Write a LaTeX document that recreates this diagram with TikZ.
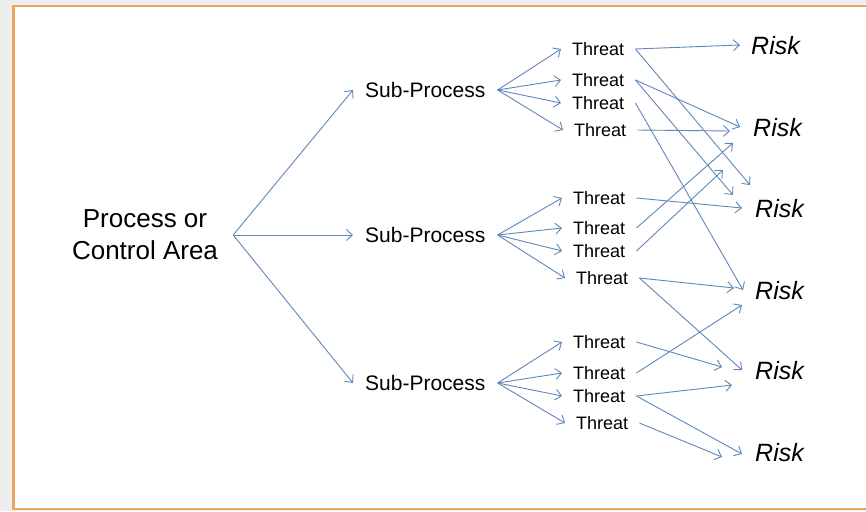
\documentclass[tikz,border=0pt]{standalone}
\usepackage{fontspec}
\setmainfont{Liberation Sans}
\usetikzlibrary{arrows.meta}
\definecolor{arrowblue}{RGB}{95,135,185}
\definecolor{frameorange}{RGB}{236,165,95}
\definecolor{outsidegray}{RGB}{238,238,238}
\begin{document}
\begin{tikzpicture}[x=1pt,y=-1pt,
  conn/.style={draw=arrowblue, line width=0.9pt, -{Straight Barb[length=6pt,width=11pt]}},
  proctext/.style={font=\fontsize{26}{32}\selectfont, align=center, inner xsep=15pt, inner ysep=0pt},
  subtext/.style={font=\fontsize{21}{25}\selectfont, anchor=west, inner xsep=12pt, inner ysep=0pt},
  threattext/.style={font=\fontsize{18}{22}\selectfont, anchor=west, inner xsep=11pt, inner ysep=0pt},
  risktext/.style={font=\fontsize{25}{30}\selectfont\itshape, anchor=west, inner sep=0pt}]
\useasboundingbox (0,0) rectangle (866,511);
\fill[outsidegray] (0,0) rectangle (866,511);
\draw[frameorange, line width=2.5pt, fill=white] (13.5,6) rectangle (880,509);

% nodes
\node[proctext] (proc) at (145,235) {Process or\\Control Area};

\node[subtext] (sp1) at (353,90) {Sub-Process};
\node[subtext] (sp2) at (353,235) {Sub-Process};
\node[subtext] (sp3) at (353,383) {Sub-Process};

\node[threattext] (t1a) at (561,49) {Threat};
\node[threattext] (t1b) at (561,80) {Threat};
\node[threattext] (t1c) at (561,103) {Threat};
\node[threattext] (t1d) at (563,130) {Threat};
\node[threattext] (t2a) at (562,198) {Threat};
\node[threattext] (t2b) at (562,228) {Threat};
\node[threattext] (t2c) at (562,251) {Threat};
\node[threattext] (t2d) at (565,278) {Threat};
\node[threattext] (t3a) at (562,342) {Threat};
\node[threattext] (t3b) at (562,373) {Threat};
\node[threattext] (t3c) at (562,396) {Threat};
\node[threattext] (t3d) at (565,423) {Threat};

\node[risktext] (r1) at (751,46) {Risk};
\node[risktext] (r2) at (753,128) {Risk};
\node[risktext] (r3) at (755,209) {Risk};
\node[risktext] (r4) at (755,291) {Risk};
\node[risktext] (r5) at (755,371) {Risk};
\node[risktext] (r6) at (755,453) {Risk};

% arrow tips near the risks
\coordinate (k1) at (740,45);
\coordinate (k2) at (750,185);
\coordinate (k3) at (740,127);
\coordinate (k4) at (733,195);
\coordinate (k5) at (743,290);
\coordinate (k6) at (730,131);
\coordinate (k7) at (742,208);
\coordinate (k8) at (733,143);
\coordinate (k9) at (723,170);
\coordinate (k10) at (734,288);
\coordinate (k11) at (742,370);
\coordinate (k12) at (722,367);
\coordinate (k13) at (742,305);
\coordinate (k14) at (732,385);
\coordinate (k15) at (742,454);
\coordinate (k16) at (722,457);

% process to sub-processes
\draw[conn] (proc.east) -- (sp1.west);
\draw[conn] (proc.east) -- (sp2.west);
\draw[conn] (proc.east) -- (sp3.west);

% sub-processes to threats
\foreach \s/\g in {sp1/1,sp2/2,sp3/3}{
  \foreach \t in {a,b,c,d}{
    \draw[conn] (\s.east) -- (t\g\t.west);
  }
}

% threats to risks
\draw[conn] (t1a.east) -- (k1);
\draw[conn] (t1a.east) -- (k2);
\draw[conn] (t1b.east) -- (k3);
\draw[conn] (t1b.east) -- (k4);
\draw[conn] (t1c.east) -- (k5);
\draw[conn] (t1d.east) -- (k6);
\draw[conn] (t2a.east) -- (k7);
\draw[conn] (t2b.east) -- (k8);
\draw[conn] (t2c.east) -- (k9);
\draw[conn] (t2d.east) -- (k10);
\draw[conn] (t2d.east) -- (k11);
\draw[conn] (t3a.east) -- (k12);
\draw[conn] (t3b.east) -- (k13);
\draw[conn] (t3c.east) -- (k14);
\draw[conn] (t3c.east) -- (k15);
\draw[conn] (t3d.east) -- (k16);
\end{tikzpicture}
\end{document}
